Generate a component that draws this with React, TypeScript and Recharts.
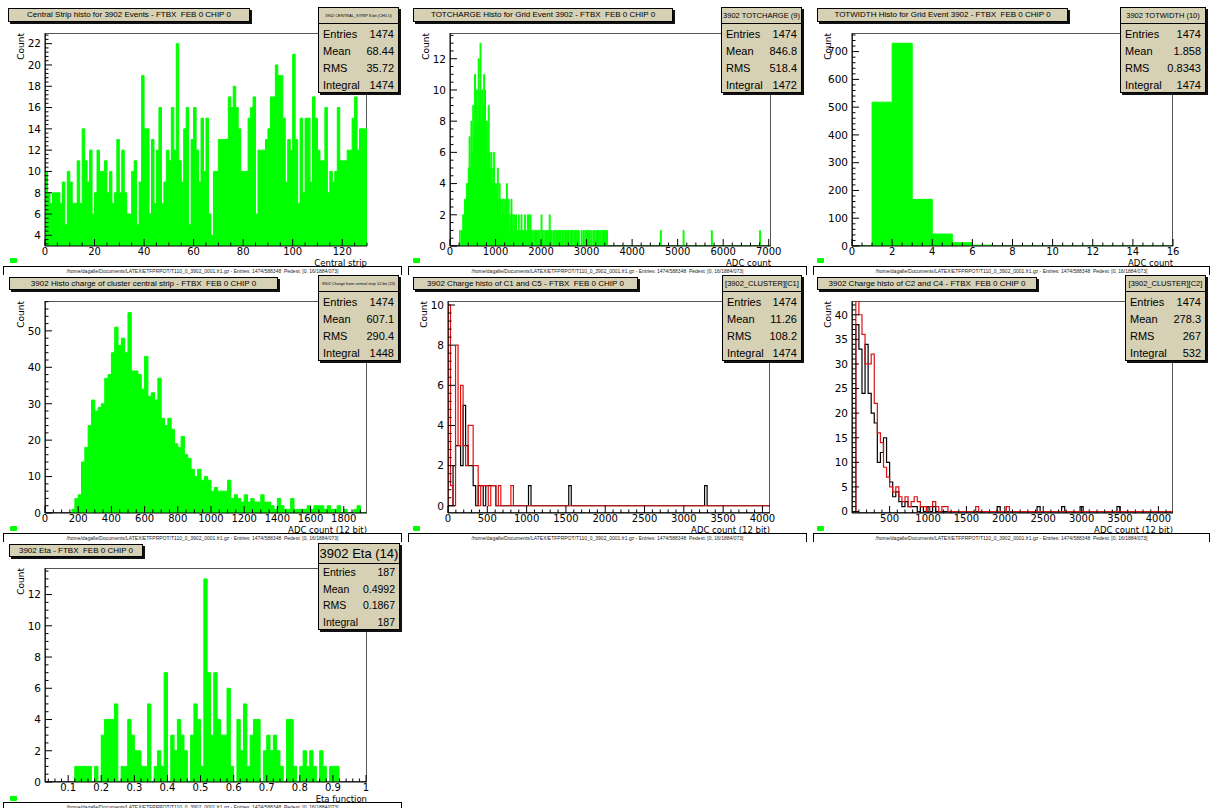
import React from 'react';
import { ComposedChart, Area, Line, XAxis, YAxis } from 'recharts';

const GREEN = '#00ff00';
const RED = '#dd1111';
const BEIGE = '#d6d0b4';
const SANS = '"Liberation Sans", Arial, sans-serif';
const DEJAVU = '"DejaVu Sans", sans-serif';

// Central strip histo (1 bin per strip, from strip 0)
const stripStart = 0;
const stripWidth = 1;
const stripCounts = [
  10, 8, 7, 8, 8, 8, 7, 9, 5, 10, 9, 7, 7, 11, 7, 14, 11, 9, 12, 6,
  8, 12, 10, 10, 11, 8, 10, 7, 8, 13, 8, 12, 8, 6, 6, 10, 11, 5, 9, 19,
  14, 14, 6, 13, 7, 12, 16, 7, 9, 12, 11, 16, 12, 22, 11, 9, 14, 16, 5, 13,
  16, 12, 9, 15, 10, 15, 6, 4, 10, 10, 13, 13, 13, 13, 17, 16, 18, 16, 14, 10,
  10, 10, 15, 16, 17, 6, 12, 12, 12, 13, 14, 17, 17, 20, 19, 19, 15, 9, 13, 12,
  21, 13, 7, 15, 8, 15, 15, 9, 17, 15, 12, 11, 11, 16, 8, 10, 9, 10, 16, 11,
  11, 11, 12, 12, 15, 17, 12, 14, 14, 14,
];
const stripXTicks = [0, 20, 40, 60, 80, 100, 120];
const stripYTicks = [4, 6, 8, 10, 12, 14, 16, 18, 20, 22];

// TOTCHARGE histo
const totChargeStart = 200;
const totChargeWidth = 20;
const totChargeCounts = [
  1, 0, 1, 1, 2, 2, 3, 3, 4, 4, 5, 7, 5, 8, 6, 9, 7, 11, 9, 10,
  8, 12, 9, 13, 8, 10, 9, 11, 10, 6, 8, 6, 9, 6, 5, 6, 4, 5, 6, 4,
  4, 3, 5, 3, 4, 3, 2, 3, 3, 2, 3, 2, 4, 2, 3, 1, 2, 3, 2, 1,
  2, 1, 2, 1, 1, 2, 1, 1, 2, 1, 1, 1, 2, 0, 1, 2, 2, 1, 2, 1,
  1, 0, 1, 1, 1, 1, 0, 1, 1, 0, 2, 1, 1, 0, 1, 1, 0, 1, 1, 2,
  1, 1, 0, 1, 1, 0, 1, 1, 0, 1, 1, 1, 0, 1, 1, 0, 1, 1, 0, 1,
  1, 0, 1, 1, 1, 0, 1, 1, 1, 0, 1, 1, 0, 0, 1, 0, 1, 0, 1, 0,
  1, 0, 1, 1, 0, 1, 0, 1, 1, 0, 1, 0, 1, 1, 0, 1, 0, 1, 1, 1,
  1, 1, 1,
];
const totChargeTail: [number, number][] = [[4620, 1], [5120, 1], [5740, 1], [6800, 1]];
const totChargeXTicks = [0, 1000, 2000, 3000, 4000, 5000, 6000, 7000];
const totChargeYTicks = [0, 2, 4, 6, 8, 10, 12];

// TOTWIDTH histo
const totWidthStart = 0;
const totWidthWidth = 1;
const totWidthCounts = [0, 518, 730, 168, 43, 12, 3];
const totWidthXTicks = [0, 2, 4, 6, 8, 10, 12, 14, 16];
const totWidthYTicks = [0, 100, 200, 300, 400, 500, 600, 700];

// charge of cluster central strip
const centralStart = 160;
const centralWidth = 20;
const centralCounts = [
  1, 4, 5, 14, 18, 24, 31, 28, 29, 30, 37, 38, 44, 51, 46, 48, 44, 55, 39, 39,
  38, 34, 43, 32, 33, 31, 37, 26, 24, 26, 23, 19, 18, 21, 16, 15, 12, 10, 12, 9,
  10, 9, 6, 7, 6, 6, 6, 9, 4, 5, 4, 3, 5, 3, 4, 3, 3, 5, 3, 3,
  2, 1, 4, 2, 1, 1, 4, 1, 1, 1, 1, 2, 1, 2, 2, 2, 1, 2, 1, 1,
  2, 0, 1, 0, 0, 1, 2, 0, 0,
];
const centralXTicks = [0, 200, 400, 600, 800, 1000, 1200, 1400, 1600, 1800];
const centralYTicks = [0, 10, 20, 30, 40, 50];

// C1 (black) and C5 (red)
const c15Start = 0;
const c15Width = 32;
const c1Counts = [0, 0, 2, 3, 3, 2, 5, 3, 2, 2, 1, 0, 1, 1, 0, 1, 1, 1, 1];
const c1Tail: [number, number][] = [[1024, 1], [1536, 1], [3264, 1]];
const c5Counts = [10, 1, 0, 8, 3, 6, 3, 2, 4, 4, 2, 2, 0, 1, 1, 1, 0, 1, 1, 0, 1, 0, 0, 0, 0, 1];
const c15XTicks = [0, 500, 1000, 1500, 2000, 2500, 3000, 3500, 4000];
const c15YTicks = [0, 2, 4, 6, 8, 10];

// C2 (black) and C4 (red)
const c24Start = 60;
const c24Width = 40;
const c2Counts = [38, 33, 24, 34, 24, 20, 18, 10, 12, 15, 10, 6, 3, 4, 2, 1, 2, 1, 1, 1, 0, 1, 0, 1, 0, 1];
const c2Tail: [number, number][] = [[1900, 1], [2420, 1], [2740, 1], [2980, 1], [3460, 1]];
const c4Counts = [43, 40, 36, 30, 30, 32, 22, 16, 14, 9, 7, 5, 4, 5, 3, 2, 3, 1, 2, 3, 2, 1, 1, 0, 1, 2, 1, 0, 1, 1];
const c4Tail: [number, number][] = [[1620, 1], [2020, 1]];
const c24XTicks = [500, 1000, 1500, 2000, 2500, 3000, 3500, 4000];
const c24YTicks = [0, 5, 10, 15, 20, 25, 30, 35, 40];

// Eta
const etaStart = 0.11;
const etaWidth = 0.01;
const etaCounts = [
  0, 1, 1, 1, 1, 1, 0, 1, 0, 3, 4, 4, 4, 5, 0, 1, 1, 4, 3, 2,
  2, 1, 1, 5, 0, 1, 2, 1, 7, 0, 3, 2, 4, 3, 2, 0, 3, 5, 4, 1,
  13, 7, 3, 7, 4, 3, 3, 6, 1, 0, 4, 2, 5, 1, 3, 4, 4, 0, 2, 3,
  2, 3, 2, 1, 0, 4, 4, 1, 0, 1, 2, 1, 2, 1, 0, 2, 1, 0, 1, 1,
  1,
];
const etaXTicks = [0.1, 0.2, 0.3, 0.4, 0.5, 0.6, 0.7, 0.8, 0.9, 1];
const etaYTicks = [0, 2, 4, 6, 8, 10, 12];

const footerText =
  '/home/dagalle/Documents/LATEX/ETFPRPOT/T110_0_3902_0001.fr1.gz - Entries: 1474/588348  Pedest: [0, 16/1884/073]';

type Pt = { x: number; y: number };

function histPoints(start: number, width: number, counts: number[], nBins: number, tail: [number, number][] = [], closed = false): Pt[] {
  const vals = Array.from({ length: nBins }, (_, i) => counts[i] ?? 0);
  tail.forEach(([edge, c]) => {
    const i = Math.round((edge - start) / width);
    if (i >= 0 && i < nBins) vals[i] = c;
  });
  const pts = vals.map((v, i) => ({ x: start + i * width, y: v }));
  const end = start + nBins * width;
  pts.push({ x: end, y: vals[nBins - 1] });
  if (closed) {
    pts.unshift({ x: start, y: 0 });
    pts.push({ x: end, y: 0 });
  }
  return pts;
}

function tickValues(domain: [number, number], step: number) {
  const out: number[] = [];
  const k0 = Math.ceil(domain[0] / step - 1e-6);
  const k1 = Math.floor(domain[1] / step + 1e-6);
  for (let k = k0; k <= k1; k++) out.push(+(k * step).toFixed(6));
  return out;
}

const isMajor = (v: number, majors: number[]) => majors.some((m) => Math.abs(m - v) < 1e-6);
const fmt = (v: number) => String(+v.toFixed(3));

const xTick = (majors: number[]) => (props: any) => {
  const { x, y, payload } = props;
  const major = isMajor(payload.value, majors);
  return (
    <g>
      <line x1={x} x2={x} y1={y} y2={y - (major ? 7 : 3.5)} stroke="#000" strokeWidth={1} />
      {major && (
        <text x={x} y={y + 9} textAnchor="middle" fontSize={10} fontFamily={DEJAVU} fill="#000">
          {fmt(payload.value)}
        </text>
      )}
    </g>
  );
};

const yTick = (majors: number[]) => (props: any) => {
  const { x, y, payload } = props;
  const major = isMajor(payload.value, majors);
  return (
    <g>
      <line x1={x} x2={x + (major ? 7 : 3.5)} y1={y} y2={y} stroke="#000" strokeWidth={1} />
      {major && (
        <text x={x - 4} y={y} dy="0.36em" textAnchor="end" fontSize={10.5} fontFamily={DEJAVU} fill="#000">
          {fmt(payload.value)}
        </text>
      )}
    </g>
  );
};

type Series = { points: Pt[]; color: string; fill?: boolean };
type Box = { x: number; y: number; w: number; h: number };

interface PanelProps {
  plot: { l: number; t: number; r: number; b: number };
  xDomain: [number, number];
  yDomain: [number, number];
  xMajor: number[];
  xMinor: number;
  yMajor: number[];
  yMinor: number;
  series: Series[];
  xTitle: string;
  title: Box & { text: string };
  stats: Box & { header: string; headerH: number; headerSize: number; rowTop: number; rowH: number; rowSize: number; rows: [string, string][] };
  footer?: { x: number; y: number; w: number };
  marker: { x: number; y: number };
}

const Panel: React.FC<PanelProps> = (p) => {
  const { l, t, r, b } = p.plot;
  const w = r - l;
  const h = b - t;
  const s = p.stats;
  return (
    <>
      <div style={{ position: 'absolute', left: l, top: t, width: w, height: h, border: '1px solid #555', boxSizing: 'border-box' }} />
      <div style={{ position: 'absolute', left: l - 45, top: t - 12 }}>
        <ComposedChart width={w + 57} height={h + 40} margin={{ top: 12, right: 12, bottom: 0, left: 0 }}>
          {p.series.map((se, i) =>
            se.fill ? (
              <Area key={i} data={se.points} dataKey="y" type="stepAfter" stroke={se.color} strokeWidth={1}
                fill={se.color} fillOpacity={1} dot={false} activeDot={false} isAnimationActive={false} />
            ) : (
              <Line key={i} data={se.points} dataKey="y" type="stepAfter" stroke={se.color} strokeWidth={1.2}
                dot={false} activeDot={false} isAnimationActive={false} />
            )
          )}
          <XAxis dataKey="x" type="number" domain={p.xDomain} allowDataOverflow ticks={tickValues(p.xDomain, p.xMinor)}
            interval={0} height={28} tickSize={0} tickMargin={0} tickLine={false} axisLine={{ stroke: '#000' }} tick={xTick(p.xMajor)} />
          <YAxis type="number" domain={p.yDomain} allowDataOverflow ticks={tickValues(p.yDomain, p.yMinor)}
            interval={0} width={45} tickSize={0} tickMargin={0} tickLine={false} axisLine={{ stroke: '#000' }} tick={yTick(p.yMajor)} />
        </ComposedChart>
      </div>
      <svg width={1210} height={808} style={{ position: 'absolute', left: 0, top: 0, pointerEvents: 'none' }}>
        <text x={r} y={b + 19.5} textAnchor="end" fontSize={8.5} fontFamily={DEJAVU} fill="#000">{p.xTitle}</text>
        <text transform={`translate(${l - 21},${t}) rotate(-90)`} textAnchor="end" fontSize={9} fontFamily={DEJAVU} fill="#000">Count</text>
      </svg>
      <div style={{
        position: 'absolute', left: p.title.x, top: p.title.y, width: p.title.w, height: p.title.h, background: BEIGE,
        border: '1px solid #000', boxShadow: '2px 2px 0 #111', boxSizing: 'border-box', fontFamily: SANS, fontSize: 8,
        lineHeight: `${p.title.h - 2}px`, textAlign: 'center', whiteSpace: 'pre', overflow: 'hidden', color: '#000',
      }}>{p.title.text}</div>
      <div style={{
        position: 'absolute', left: s.x, top: s.y, width: s.w, height: s.h, background: BEIGE, border: '1px solid #000',
        boxShadow: '2px 2px 0 #111', boxSizing: 'border-box', fontFamily: SANS, color: '#000',
      }}>
        <div style={{ height: s.headerH, borderBottom: '1px solid #000', boxSizing: 'border-box', fontSize: s.headerSize,
          lineHeight: `${s.headerH - 1}px`, textAlign: 'center', whiteSpace: 'nowrap', overflow: 'hidden' }}>{s.header}</div>
        <div style={{ paddingTop: s.rowTop }}>
          {s.rows.map(([k, v]) => (
            <div key={k} style={{ display: 'flex', justifyContent: 'space-between', height: s.rowH, lineHeight: `${s.rowH}px`,
              fontSize: s.rowSize, padding: '0 4px 0 4px' }}>
              <span>{k}</span>
              <span>{v}</span>
            </div>
          ))}
        </div>
      </div>
      {p.footer && (
        <div style={{
          position: 'absolute', left: p.footer.x, top: p.footer.y, width: p.footer.w, height: 9, border: '1px solid #000',
          borderBottom: 'none', boxSizing: 'border-box', fontFamily: SANS, fontSize: 5, lineHeight: '5px', paddingTop: 1.5,
          textAlign: 'center', color: '#222', whiteSpace: 'pre', overflow: 'hidden',
        }}>{footerText}</div>
      )}
      <div style={{ position: 'absolute', left: p.marker.x, top: p.marker.y, width: 7, height: 5, background: GREEN, borderRadius: 1 }} />
    </>
  );
};

const stdStats = { headerH: 16, headerSize: 7.5, rowTop: 1.5, rowH: 17, rowSize: 11 };
const statRows = (entries: string, mean: string, rms: string, integral: string): [string, string][] => [
  ['Entries', entries], ['Mean', mean], ['RMS', rms], ['Integral', integral],
];

export default function App() {
  const panels: PanelProps[] = [
    {
      plot: { l: 45, t: 33, r: 367, b: 246 }, xDomain: [0, 130], yDomain: [3, 23],
      xMajor: stripXTicks, xMinor: 5, yMajor: stripYTicks, yMinor: 0.4,
      series: [{ points: histPoints(stripStart, stripWidth, stripCounts, 130), color: GREEN, fill: true }],
      xTitle: 'Central strip',
      title: { x: 8, y: 8, w: 242, h: 14, text: 'Central Strip histo for 3902 Events - FTBX  FEB 0 CHIP 0' },
      stats: { x: 318, y: 7, w: 81, h: 86, ...stdStats, headerSize: 4, header: '3902 CENTRAL_STRIP 8-bit (CH1 0)', rows: statRows('1474', '68.44', '35.72', '1474') },
      footer: { x: 3, y: 266, w: 399 }, marker: { x: 10, y: 258 },
    },
    {
      plot: { l: 450, t: 33, r: 771, b: 246 }, xDomain: [0, 7050], yDomain: [0, 13.65],
      xMajor: totChargeXTicks, xMinor: 200, yMajor: totChargeYTicks, yMinor: 0.5,
      series: [{ points: histPoints(totChargeStart, totChargeWidth, totChargeCounts, 342, totChargeTail), color: GREEN, fill: true }],
      xTitle: 'ADC count',
      title: { x: 413, y: 8, w: 260, h: 14, text: 'TOTCHARGE Histo for Grid Event 3902 - FTBX  FEB 0 CHIP 0' },
      stats: { x: 721, y: 7, w: 81, h: 86, ...stdStats, header: '3902 TOTCHARGE (9)', rows: statRows('1474', '846.8', '518.4', '1472') },
      footer: { x: 408, y: 266, w: 399 }, marker: { x: 413, y: 258 },
    },
    {
      plot: { l: 852, t: 33, r: 1173, b: 246 }, xDomain: [0, 16], yDomain: [0, 767],
      xMajor: totWidthXTicks, xMinor: 0.5, yMajor: totWidthYTicks, yMinor: 20,
      series: [{ points: histPoints(totWidthStart, totWidthWidth, totWidthCounts, 16), color: GREEN, fill: true }],
      xTitle: 'ADC count',
      title: { x: 817, y: 8, w: 251, h: 14, text: 'TOTWIDTH Histo for Grid Event 3902 - FTBX  FEB 0 CHIP 0' },
      stats: { x: 1120, y: 7, w: 86, h: 86, ...stdStats, header: '3902 TOTWIDTH (10)', rows: statRows('1474', '1.858', '0.8343', '1474') },
      footer: { x: 813, y: 266, w: 397 }, marker: { x: 817, y: 258 },
    },
    {
      plot: { l: 45, t: 301, r: 367, b: 513 }, xDomain: [0, 1940], yDomain: [0, 58.2],
      xMajor: centralXTicks, xMinor: 50, yMajor: centralYTicks, yMinor: 2,
      series: [{ points: histPoints(centralStart, centralWidth, centralCounts, 89), color: GREEN, fill: true }],
      xTitle: 'ADC count (12 bit)',
      title: { x: 9, y: 277, w: 269, h: 13, text: '3902 Histo charge of cluster central strip - FTBX  FEB 0 CHIP 0' },
      stats: { x: 318, y: 275, w: 81, h: 86, ...stdStats, headerSize: 4, header: '3902 Charge from central strip 12-bit (13)', rows: statRows('1474', '607.1', '290.4', '1448') },
      footer: { x: 3, y: 533, w: 399 }, marker: { x: 10, y: 526 },
    },
    {
      plot: { l: 448, t: 301, r: 770, b: 513 }, xDomain: [0, 4096], yDomain: [-0.36, 10.2],
      xMajor: c15XTicks, xMinor: 100, yMajor: c15YTicks, yMinor: 0.4,
      series: [
        { points: histPoints(c15Start, c15Width, c1Counts, 128, c1Tail, true), color: '#000' },
        { points: histPoints(c15Start, c15Width, c5Counts, 128, [], true), color: RED },
      ],
      xTitle: 'ADC count (12 bit)',
      title: { x: 413, y: 277, w: 225, h: 13, text: '3902 Charge histo of C1 and C5 - FTBX  FEB 0 CHIP 0' },
      stats: { x: 722, y: 275, w: 80, h: 86, ...stdStats, header: '[3902_CLUSTER][C1]', rows: statRows('1474', '11.26', '108.2', '1474') },
      footer: { x: 408, y: 533, w: 399 }, marker: { x: 413, y: 526 },
    },
    {
      plot: { l: 852, t: 301, r: 1173, b: 513 }, xDomain: [10, 4190], yDomain: [-0.3, 42.8],
      xMajor: c24XTicks, xMinor: 100, yMajor: c24YTicks, yMinor: 1,
      series: [
        { points: histPoints(c24Start, c24Width, c2Counts, 103, c2Tail, true), color: '#000' },
        { points: histPoints(c24Start, c24Width, c4Counts, 103, c4Tail, true), color: RED },
      ],
      xTitle: 'ADC count (12 bit)',
      title: { x: 817, y: 277, w: 220, h: 13, text: '3902 Charge histo of C2 and C4 - FTBX  FEB 0 CHIP 0' },
      stats: { x: 1125, y: 275, w: 81, h: 86, ...stdStats, header: '[3902_CLUSTER][C2]', rows: statRows('1474', '278.3', '267', '532') },
      footer: { x: 813, y: 533, w: 397 }, marker: { x: 817, y: 526 },
    },
    {
      plot: { l: 45, t: 568, r: 367, b: 782 }, xDomain: [0.03, 1.003], yDomain: [0, 13.7],
      xMajor: etaXTicks, xMinor: 0.02, yMajor: etaYTicks, yMinor: 0.5,
      series: [{ points: histPoints(etaStart, etaWidth, etaCounts, 81), color: GREEN, fill: true }],
      xTitle: 'Eta function',
      title: { x: 9, y: 544, w: 134, h: 13, text: '3902 Eta - FTBX  FEB 0 CHIP 0' },
      stats: { x: 318, y: 543, w: 82, h: 87, headerH: 20, headerSize: 13, rowTop: 0, rowH: 16.5, rowSize: 10.5, header: '3902 Eta (14)', rows: statRows('187', '0.4992', '0.1867', '187') },
      footer: { x: 3, y: 802, w: 399 }, marker: { x: 10, y: 796 },
    },
  ];

  return (
    <div style={{ position: 'absolute', left: 0, top: 0, width: 1210, height: 808, background: '#fff', overflow: 'hidden' }}>
      {panels.map((p, i) => (
        <Panel key={i} {...p} />
      ))}
    </div>
  );
}
